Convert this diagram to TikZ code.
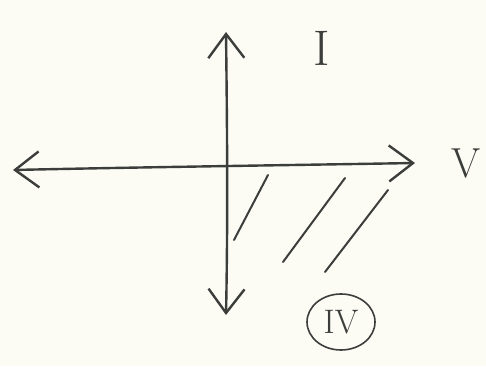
\documentclass[tikz,border=0pt]{standalone}
\usepackage{tikz}
\usetikzlibrary{arrows.meta,shapes.geometric}
\definecolor{paper}{RGB}{252,252,244}
\definecolor{pencil}{RGB}{60,62,60}

\begin{document}
\begin{tikzpicture}[x=1pt,y=1pt,>={Straight Barb[length=24pt,width=36pt]},line cap=round,line join=round]
  \fill[paper] (0,0) rectangle (486,366);
  \useasboundingbox (0,0) rectangle (486,366);

  % axes
  \draw[<->,pencil,line width=2.4pt] (226,51) .. controls (228,150) and (227,250) .. (226,334);
  \draw[<->,pencil,line width=2.4pt] (13,196) .. controls (150,199) and (300,201) .. (415,203);

  % hatching of the fourth quadrant
  \draw[pencil,line width=2pt] (268,191) -- (234,126);
  \draw[pencil,line width=2pt] (345,188) -- (283,104);
  \draw[pencil,line width=2pt] (388,176) -- (325,94);

  \node[pencil,font=\fontsize{50}{50}\selectfont] (ilab) at (322,318) {I};
  \node[pencil,font=\fontsize{42}{42}\selectfont] (vlab) at (466,203) {V};
  \node[pencil,font=\fontsize{34}{34}\selectfont,draw,ellipse,line width=1.6pt,
        minimum width=68pt,minimum height=56pt,inner sep=0pt] (quad) at (341,44) {IV};
\end{tikzpicture}
\end{document}
